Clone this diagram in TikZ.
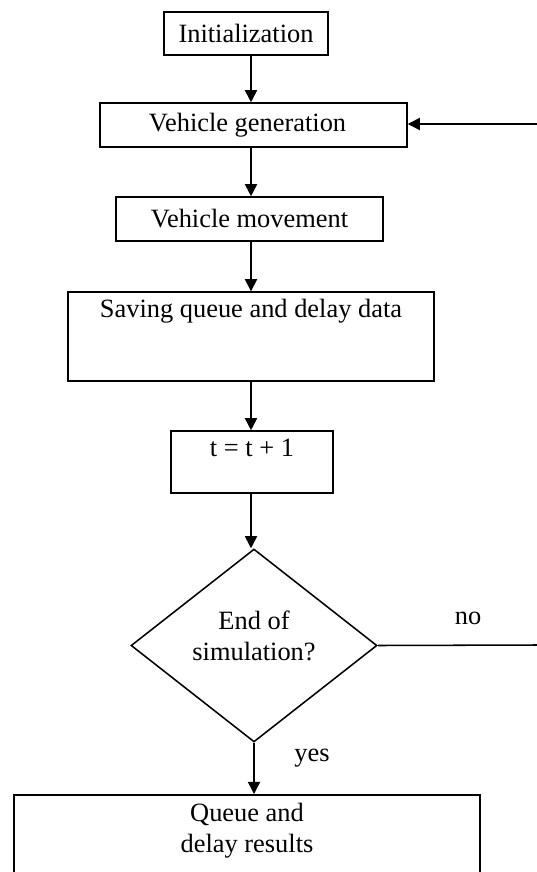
\documentclass[tikz,border=0pt]{standalone}
\usepackage{fontspec}
\setmainfont{Liberation Serif}
\usetikzlibrary{shapes.geometric, arrows.meta}

\begin{document}
\begin{tikzpicture}[x=0.4545pt, y=-0.4545pt, line width=0.7pt,
        every node/.style={font=\fontsize{12}{14}\selectfont},
        box/.style={draw, rectangle, inner sep=0pt},
        decision/.style={draw, diamond, inner sep=0pt, align=center},
        arr/.style={-{Triangle[length=5.5pt, width=5.5pt]}}]
            \useasboundingbox (0,0) rectangle (537,872);
            \clip (0,0) rectangle (537,872);

            \coordinate (spine) at (251, 0);

            \node[box, minimum width=74.5pt, minimum height=19.5pt] (init) at (246, 33.5) {Initialization};
            \node[box, minimum width=139.5pt, minimum height=20pt] (gen) at (253.5, 125) {\hspace{-5.4pt}Vehicle generation};
            \node[box, minimum width=121.4pt, minimum height=20pt] (move) at (249.5, 219) {Vehicle movement};
            \node[box, minimum width=166.4pt, text height=11.4pt, text depth=29pt] (save) at (251, 336.5) {Saving queue and delay data};
            \node[box, minimum width=73.6pt, text height=11.8pt, text depth=16.4pt] (tplus) at (252, 462) {t = t + 1};
            \node[decision, minimum width=111.8pt, minimum height=87.7pt] (end) at (254, 645.5) {End of\\simulation?\\[-5pt]};
            \node[box, minimum width=211.8pt, minimum height=54.5pt, anchor=north] (queue) at (247, 794) {};
            \node[anchor=north, align=center, inner sep=4pt] (queuetxt) at (queue.north) {Queue and\\delay results};

            \coordinate (loopin) at (537, 124);
            \coordinate (loopout) at (537, 645);

            \draw[arr] (init.south -| spine) -- (gen.north -| spine);
            \draw[arr] (gen.south -| spine) -- (move.north -| spine);
            \draw[arr] (move.south -| spine) -- (save.north -| spine);
            \draw[arr] (save.south -| spine) -- (tplus.north -| spine);
            \draw[arr] (tplus.south -| spine) -- (end.north -| spine);
            \draw[arr] (end.south) -- (queue.north -| end.south);
            \draw (end.east) -- (loopout);
            \draw[arr] (loopin) -- (gen.east |- loopin);

            \node (no) at (468, 618) {no};
            \node (yes) at (312, 758) {yes};
        \end{tikzpicture}
\end{document}
